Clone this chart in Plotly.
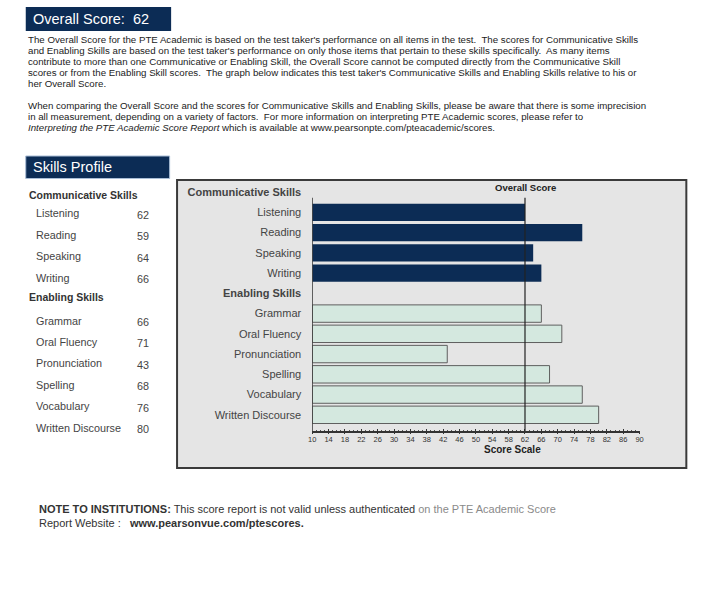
import plotly.graph_objects as go

# ---------------- data ----------------
overall_score = 62
comm_skills = ["Listening", "Reading", "Speaking", "Writing"]
comm_table_scores = [62, 59, 64, 66]
comm_bar_scores = [62, 76, 64, 66]
enab_skills = ["Grammar", "Oral Fluency", "Pronunciation", "Spelling", "Vocabulary", "Written Discourse"]
enab_scores = [66, 71, 43, 68, 76, 80]
scale_ticks = list(range(10, 91, 4))
scale_min, scale_max = 10, 90

# ---------------- helpers ----------------
W, H = 720, 595
FONT = "Arial, Liberation Sans, sans-serif"
NAVY = "#0c2c55"
MINT = "#d4e8df"


def px(x):
    return x / W


def py(y):
    return 1 - y / H


fig = go.Figure()

# rows: 0 = Communicative header, 1-4 comm, 5 = Enabling header, 6-11 enabling
comm_rows = [1, 2, 3, 4]
enab_rows = [6, 7, 8, 9, 10, 11]

fig.add_trace(go.Bar(
    y=comm_rows, x=[v - scale_min for v in comm_bar_scores], base=scale_min,
    orientation="h", width=0.85,
    marker=dict(color=NAVY, line=dict(width=0)),
    hoverinfo="skip", showlegend=False))
fig.add_trace(go.Bar(
    y=enab_rows, x=[v - scale_min for v in enab_scores], base=scale_min,
    orientation="h", width=0.86,
    marker=dict(color=MINT, line=dict(color="#5f5f5f", width=1)),
    hoverinfo="skip", showlegend=False))
# carrier for the outside tick marks (crossing ticks)
fig.add_trace(go.Scatter(x=[scale_min], y=[5], xaxis="x2", yaxis="y", mode="markers",
                         marker=dict(opacity=0), hoverinfo="skip", showlegend=False))

ticktext = ["<b>Communicative Skills</b>"] + comm_skills + ["<b>Enabling Skills</b>"] + enab_skills

# plot region in pixels
x_left, x_right = 311.7, 642.7
y_top, y_bot = 182.0, 431.0

fig.update_layout(
    width=W, height=H,
    margin=dict(l=0, r=0, t=0, b=0),
    paper_bgcolor="white", plot_bgcolor="rgba(0,0,0,0)",
    font=dict(family=FONT, color="#333"),
    barmode="overlay",
    xaxis=dict(
        domain=[px(x_left), px(x_right)], range=[scale_min, scale_max],
        tickvals=scale_ticks, ticks="inside", ticklen=2.5, tickwidth=1, tickcolor="#333",
        minor=dict(dtick=1, ticks="inside", ticklen=1.2, tickcolor="#555"),
        showline=True, linecolor="#333", linewidth=1.5,
        showgrid=False, zeroline=False,
        tickfont=dict(size=7.5, color="#333", family=FONT),
    ),
    xaxis2=dict(
        domain=[px(x_left), px(x_right)], range=[scale_min, scale_max],
        overlaying="x", anchor="y", side="bottom",
        tickvals=scale_ticks, ticks="outside", ticklen=2, tickwidth=1, tickcolor="#333",
        showticklabels=False, showline=False, showgrid=False, zeroline=False,
    ),
    yaxis=dict(
        domain=[py(y_bot), py(y_top)], range=[11.80, -0.5],
        tickvals=list(range(12)), ticktext=ticktext,
        ticks="", ticklabelstandoff=10,
        showline=False, showgrid=False, zeroline=False,
        tickfont=dict(size=11, color="#444", family=FONT),
    ),
)

shapes = []
# chart frame
shapes.append(dict(type="rect", xref="paper", yref="paper",
                   x0=px(175), x1=px(690), y0=py(468), y1=py(180),
                   fillcolor="#e5e5e5", line=dict(color="#3a3a3a", width=2), layer="below"))
# y axis line
shapes.append(dict(type="line", xref="x", yref="y", x0=scale_min, x1=scale_min, y0=0.28, y1=11.80,
                   line=dict(color="#333", width=1.5)))
# overall score line
shapes.append(dict(type="line", xref="x", yref="y", x0=overall_score, x1=overall_score, y0=0.28, y1=11.80,
                   line=dict(color="#222", width=1.2)))
# header boxes
shapes.append(dict(type="rect", xref="paper", yref="paper", x0=px(22), x1=px(169), y0=py(31), y1=py(7),
                   fillcolor=NAVY, line=dict(width=0)))
shapes.append(dict(type="rect", xref="paper", yref="paper", x0=px(22), x1=px(167.5), y0=py(178.5), y1=py(156),
                   fillcolor=NAVY, line=dict(color="#a9bdd6", width=1)))
fig.update_layout(shapes=shapes)


def ann(text, x, y, size=9.7, color="#222", xanchor="left", bold=False):
    if bold:
        text = "<b>" + text + "</b>"
    fig.add_annotation(text=text, x=px(x), y=py(y), xref="paper", yref="paper",
                       xanchor=xanchor, yanchor="middle", showarrow=False,
                       font=dict(size=size, color=color, family=FONT), align="left")


# header
ann("Overall Score:&nbsp;&nbsp;" + str(overall_score), 27, 18.5, size=14.5, color="white")
ann("Skills Profile", 27, 166.5, size=14.5, color="white")

para1 = [
    "The Overall Score for the PTE Academic is based on the test taker's performance on all items in the test.&nbsp; The scores for Communicative Skills",
    "and Enabling Skills are based on the test taker's performance on only those items that pertain to these skills specifically.&nbsp; As many items",
    "contribute to more than one Communicative or Enabling Skill, the Overall Score cannot be computed directly from the Communicative Skill",
    "scores or from the Enabling Skill scores.&nbsp; The graph below indicates this test taker's Communicative Skills and Enabling Skills relative to his or",
    "her Overall Score.",
]
para2 = [
    "When comparing the Overall Score and the scores for Communicative Skills and Enabling Skills, please be aware that there is some imprecision",
    "in all measurement, depending on a variety of factors.&nbsp; For more information on interpreting PTE Academic scores, please refer to",
    "<i>Interpreting the PTE Academic Score Report</i> which is available at www.pearsonpte.com/pteacademic/scores.",
]
for i, line in enumerate(para1):
    ann(line, 22, 40 + i * 10.8)
for i, line in enumerate(para2):
    ann(line, 22, 105.7 + i * 10.7)

# left table
ann("Communicative Skills", 23, 195, size=10.5, color="#333", bold=True)
ann("Enabling Skills", 23, 297.3, size=10.5, color="#333", bold=True)
table_names = comm_skills + enab_skills
table_scores = comm_table_scores + enab_scores
row_positions = [0, 1, 2, 3, 5, 6, 7, 8, 9, 10]
for name, score, r in zip(table_names, table_scores, row_positions):
    yy = 213.3 + 21.44 * r
    ann(name, 30.5, yy, size=10.8, color="#444")
    ann(str(score), 132.5, yy + 1.5, size=10.8, color="#444")

# chart labels
ann("Overall Score", 527, 187.3, size=9.5, color="#222", xanchor="center", bold=True)
ann("Score Scale", 514, 449.5, size=10, color="#222", xanchor="center", bold=True)

# note
fig.add_annotation(
    text="<b>NOTE TO INSTITUTIONS:</b> This score report is not valid unless authenticated "
         "<span style='color:#8a8a8a'>on the PTE Academic Score</span>",
    x=px(33), y=py(509), xref="paper", yref="paper", xanchor="left", yanchor="middle",
    showarrow=False, font=dict(size=11, color="#333", family=FONT))
fig.add_annotation(
    text="Report Website :&nbsp;&nbsp; <b>www.pearsonvue.com/ptescores.</b>",
    x=px(33), y=py(522.5), xref="paper", yref="paper", xanchor="left", yanchor="middle",
    showarrow=False, font=dict(size=11, color="#333", family=FONT))

fig.write_html("out.html", config={"displayModeBar": False},
               post_script="document.body.style.margin='0';document.body.style.overflow='hidden';")
